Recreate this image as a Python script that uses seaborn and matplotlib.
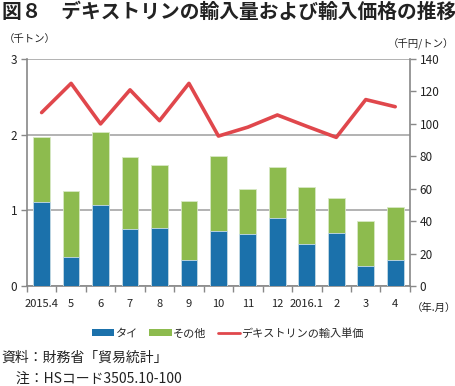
import numpy as np
import pandas as pd
import matplotlib
matplotlib.use("Agg")
import matplotlib.pyplot as plt
from matplotlib.patches import Patch
from matplotlib.lines import Line2D
import seaborn as sns

# data
months = ["2015.4", "5", "6", "7", "8", "9", "10", "11", "12", "2016.1", "2", "3", "4"]
thai = [1.11, 0.38, 1.07, 0.75, 0.77, 0.35, 0.73, 0.69, 0.90, 0.55, 0.70, 0.26, 0.35]
total = [1.97, 1.25, 2.04, 1.70, 1.60, 1.13, 1.72, 1.28, 1.57, 1.31, 1.16, 0.86, 1.05]
unit_price = [107, 125, 100, 121, 102, 125, 92.5, 98, 105.5, 98.5, 91.7, 115, 110.6]

BLUE = "#1b71ab"
GREEN = "#8dbb4e"
RED = "#e0474c"
GRID = "#a6a6a6"

sns.set_theme(style="white")
plt.rcParams["font.family"] = ["Noto Sans CJK JP", "DejaVu Sans"]

df = pd.DataFrame({"month": months, "thai": thai, "total": total, "price": unit_price})

fig = plt.figure(figsize=(4.56, 3.86), dpi=100)
ax = fig.add_axes([0.059, 0.259, 0.840, 0.588])

sns.barplot(data=df, x="month", y="total", color=GREEN, saturation=1, width=0.57, ax=ax, zorder=3,
            edgecolor="#d8e8c4", linewidth=0.6)
sns.barplot(data=df, x="month", y="thai", color=BLUE, saturation=1, width=0.57, ax=ax, zorder=4,
            edgecolor="#c6dbea", linewidth=0.6)

ax.set_xlim(-0.5, len(months) - 0.5)
ax.set_ylim(0, 3)
ax.set_yticks([0, 1, 2, 3])
ax.set_xlabel("")
ax.set_ylabel("")
ax.yaxis.grid(True, color=GRID, linewidth=1.2, zorder=0)
ax.set_axisbelow(True)
ax.set_xticks(np.arange(-0.5, len(months), 1), minor=True)
ax.tick_params(axis="x", which="major", length=0, labelsize=8, pad=9, colors="#222222")
ax.tick_params(axis="x", which="minor", length=4, color="#888888", width=1, direction="out", bottom=True)
ax.tick_params(axis="y", length=4, color="#888888", width=1, direction="out", labelsize=8.5, left=True, pad=3, colors="#222222")
for s in ["top", "right"]:
    ax.spines[s].set_visible(False)
for s in ["left", "bottom"]:
    ax.spines[s].set_color("#888888")
    ax.spines[s].set_linewidth(1.2)

ax2 = ax.twinx()
sns.lineplot(x=np.arange(len(months)), y=df["price"], color=RED, linewidth=2.6, ax=ax2, zorder=5)
ax2.set_ylim(0, 140)
ax2.set_yticks(np.arange(0, 141, 20))
ax2.set_ylabel("")
ax2.grid(False)
ax2.tick_params(axis="y", length=4, color="#888888", width=1, direction="out", labelsize=8.5, right=True, pad=3, colors="#222222")
for s in ["top", "left", "bottom"]:
    ax2.spines[s].set_visible(False)
ax2.spines["right"].set_color("#888888")
ax2.spines["right"].set_linewidth(1.2)

fig.text(0.004, 0.968, "図８　デキストリンの輸入量および輸入価格の推移", fontsize=14.2,
         fontweight="bold", va="center", ha="left", color="#222222")
fig.text(0.008, 0.900, "（千トン）", fontsize=7.5, va="center", ha="left", color="#222222")
fig.text(0.995, 0.885, "（千円/トン）", fontsize=7.5, va="center", ha="right", color="#222222")
fig.text(0.903, 0.203, "（年.月）", fontsize=7.5, va="center", ha="left", color="#222222")

handles = [Patch(facecolor=BLUE, edgecolor="none"),
           Patch(facecolor=GREEN, edgecolor="none"),
           Line2D([0], [0], color=RED, linewidth=2)]
fig.legend(handles, ["タイ", "その他", "デキストリンの輸入単価"], loc="center",
           bbox_to_anchor=(0.5, 0.137), ncol=3, frameon=False, fontsize=8,
           handlelength=2.0, handleheight=0.55, handletextpad=0.15, columnspacing=1.0)

fig.text(0.004, 0.073, "資料：財務省「貿易統計」", fontsize=10, va="center", ha="left", color="#222222")
fig.text(0.004, 0.018, "　注：HSコード3505.10-100", fontsize=10, va="center", ha="left", color="#222222")

fig.savefig("out.png", dpi=100)
